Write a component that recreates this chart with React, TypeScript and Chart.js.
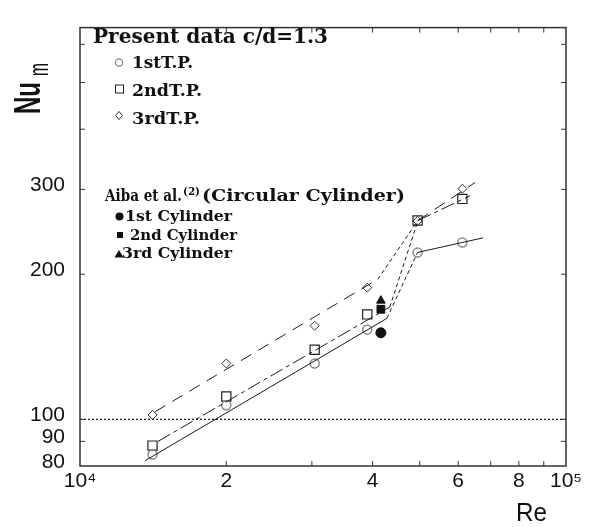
import React, { useEffect, useRef } from "react";
import { Chart, registerables } from "chart.js";

Chart.register(...registerables);

// ---- data ----
const reTP = [1.41e4, 2.0e4, 3.04e4, 3.9e4, 4.95e4, 6.12e4];
const nuTP1 = [84.5, 106.9, 130.6, 153.5, 222, 232.8];
const nuTP2 = [88.2, 111.5, 139.4, 165.1, 258.6, 286.7];
const nuTP3 = [102.1, 130.6, 156.4, 187.6, 258, 301];

const reAiba = [4.16e4];
const nuAiba1 = [151.2];
const nuAiba2 = [169.2];
const nuAiba3 = [176.3];

const fit1Re = [1.36e4, 4.28e4, 4.95e4, 6.75e4];
const fit1Nu = [82, 162, 222, 238];
const fit2Re = [1.447e4, 4.34e4, 4.96e4, 6.35e4];
const fit2Nu = [90, 171, 258.6, 291];
const fit3Re = [1.427e4, 4.1e4, 4.96e4, 6.5e4];
const fit3Nu = [103.7, 195.3, 258.6, 310];

const refRe = [1e4, 1e5];
const refNu = [100, 100];

const xTickValues = [1e4, 2e4, 3e4, 4e4, 5e4, 6e4, 7e4, 8e4, 9e4, 1e5];
const xTickLabels = ["10⁴", "2", "", "4", "", "6", "", "8", "", "10⁵"];
const yTickValues = [80, 90, 100, 200, 300, 400, 500, 600];
const yTickLabels = ["80", "90", "100", "200", "300", "", "", ""];

const legendTitle = "Present data c/d=1.3";
const legendTP = ["1stT.P.", "2ndT.P.", "3rdT.P."];
const aibaTitle = ["Aiba et al.", "(2)", "(Circular Cylinder)"];
const aibaLabels = ["1st Cylinder", "2nd Cylinder", "3rd Cylinder"];

const pts = (xs: number[], ys: number[]) => xs.map((v, i) => ({ x: v, y: ys[i] }));

function fitText(ctx: CanvasRenderingContext2D, text: string, x: number, base: number, width: number, font: string) {
  ctx.font = font;
  const w = ctx.measureText(text).width;
  ctx.save();
  ctx.translate(x, base);
  ctx.scale(width / w, 1);
  ctx.textAlign = "left";
  ctx.textBaseline = "alphabetic";
  ctx.fillText(text, 0, 0);
  ctx.restore();
}

const annot = {
  id: "annot",
  afterDatasetsDraw(chart: any) {
    const { ctx, chartArea: a, scales } = chart;
    const xs = scales.x, ys = scales.y;
    ctx.save();
    // frame
    ctx.strokeStyle = "#333";
    ctx.lineWidth = 1.5;
    ctx.strokeRect(a.left, a.top, a.right - a.left, a.bottom - a.top);
    // inward ticks
    ctx.lineWidth = 1;
    ctx.beginPath();
    xTickValues.slice(1, -1).forEach((v) => {
      const p = xs.getPixelForValue(v);
      ctx.moveTo(p, a.bottom); ctx.lineTo(p, a.bottom - 5);
      ctx.moveTo(p, a.top); ctx.lineTo(p, a.top + 5);
    });
    yTickValues.slice(1).forEach((v) => {
      const p = ys.getPixelForValue(v);
      ctx.moveTo(a.left, p); ctx.lineTo(a.left + 5, p);
      ctx.moveTo(a.right, p); ctx.lineTo(a.right - 5, p);
    });
    ctx.stroke();

    ctx.fillStyle = "#111";
    // axis titles
    ctx.save();
    ctx.translate(40, 114);
    ctx.rotate(-Math.PI / 2);
    fitText(ctx, "Nu", 0, 0, 32, "bold 37px 'Liberation Sans'");
    ctx.restore();
    ctx.save();
    ctx.translate(48, 76);
    ctx.rotate(-Math.PI / 2);
    fitText(ctx, "m", 0, 0, 13, "27px 'Liberation Sans'");
    ctx.restore();
    fitText(ctx, "Re", 516, 521, 31, "26px 'Liberation Sans'");

    // legend: present data
    const serif = "'DejaVu Serif'";
    fitText(ctx, legendTitle, 93, 43, 235, `bold 21px ${serif}`);
    fitText(ctx, legendTP[0], 132, 68, 61, `bold 16px ${serif}`);
    fitText(ctx, legendTP[1], 132, 96, 70, `bold 16px ${serif}`);
    fitText(ctx, legendTP[2], 132, 124, 68, `bold 16px ${serif}`);
    // markers
    ctx.lineWidth = 1.3;
    ctx.strokeStyle = "#888";
    ctx.beginPath(); ctx.arc(119, 62.5, 3.6, 0, Math.PI * 2); ctx.stroke();
    ctx.strokeStyle = "#222";
    ctx.lineWidth = 1;
    ctx.strokeRect(115.5, 85, 8, 8);
    ctx.beginPath();
    ctx.moveTo(119, 111.5); ctx.lineTo(122.5, 115.5); ctx.lineTo(119, 119.5); ctx.lineTo(115.5, 115.5); ctx.closePath();
    ctx.stroke();

    // legend: Aiba et al.
    fitText(ctx, aibaTitle[0], 105, 201, 77, `bold 17px ${serif}`);
    fitText(ctx, aibaTitle[1], 183, 195, 17, `bold 11px ${serif}`);
    fitText(ctx, aibaTitle[2], 202, 201, 203, `bold 17px ${serif}`);
    fitText(ctx, aibaLabels[0], 125, 221, 107, `bold 15px ${serif}`);
    fitText(ctx, aibaLabels[1], 130, 240, 107, `bold 15px ${serif}`);
    fitText(ctx, aibaLabels[2], 122, 258, 110, `bold 15px ${serif}`);
    ctx.fillStyle = "#111";
    ctx.beginPath(); ctx.arc(119.5, 216.5, 4, 0, Math.PI * 2); ctx.fill();
    ctx.fillRect(117, 232, 6, 6);
    ctx.beginPath();
    ctx.moveTo(119, 250); ctx.lineTo(123.5, 257.5); ctx.lineTo(114.5, 257.5); ctx.closePath(); ctx.fill();
    ctx.restore();
  },
};

export default function App() {
  const ref = useRef<HTMLCanvasElement | null>(null);
  useEffect(() => {
    document.body.style.margin = "0";
    const lineDs = (xs: number[], ys: number[], dashes: number[][]) => ({
      data: pts(xs, ys),
      showLine: true,
      pointRadius: 0,
      borderColor: "#1a1a1a",
      borderWidth: 1,
      fill: false,
      segment: { borderDash: (c: any) => dashes[c.p0DataIndex] },
    });
    const chart = new Chart(ref.current as HTMLCanvasElement, {
      type: "scatter",
      data: {
        datasets: [
          { data: pts(refRe, refNu), showLine: true, pointRadius: 0, borderColor: "#222", borderWidth: 1.2, borderDash: [2, 2] },
          lineDs(fit1Re, fit1Nu, [[], [4, 3], []]),
          lineDs(fit2Re, fit2Nu, [[14, 4, 4, 4], [4, 3], [14, 4, 4, 4]]),
          lineDs(fit3Re, fit3Nu, [[12, 8], [4, 3], [12, 8]]),
          { data: pts(reTP, nuTP1), pointStyle: "circle", pointRadius: 4.5, borderColor: "#888", borderWidth: 1.5, backgroundColor: "transparent" },
          { data: pts(reTP, nuTP2), pointStyle: "rect", pointRadius: 6.5, borderColor: "#222", borderWidth: 1.2, backgroundColor: "transparent" },
          { data: pts(reTP, nuTP3), pointStyle: "rectRot", pointRadius: 4.5, borderColor: "#333", borderWidth: 1, backgroundColor: "transparent" },
          { data: pts(reAiba, nuAiba1), pointStyle: "circle", pointRadius: 5, borderColor: "#111", backgroundColor: "#111" },
          { data: pts(reAiba, nuAiba2), pointStyle: "rect", pointRadius: 5.5, borderColor: "#111", backgroundColor: "#111" },
          { data: pts(reAiba, nuAiba3), pointStyle: "triangle", pointRadius: 5, borderColor: "#111", backgroundColor: "#111" },
        ] as any,
      },
      options: {
        animation: false,
        responsive: false,
        layout: { padding: { top: 13, right: 25, left: 0, bottom: 0 } },
        plugins: { legend: { display: false }, tooltip: { enabled: false } },
        scales: {
          x: {
            type: "logarithmic",
            min: 1e4,
            max: 1e5,
            afterBuildTicks: (s: any) => { s.ticks = xTickValues.map((v) => ({ value: v })); },
            afterFit: (s: any) => { s.height = 61; },
            grid: { display: false, drawTicks: false },
            border: { display: false },
            ticks: {
              autoSkip: false,
              maxRotation: 0,
              padding: 3,
              color: "#111",
              font: { family: "'Liberation Sans'", size: 21 },
              callback: (_v: any, i: number) => xTickLabels[i],
            },
          },
          y: {
            type: "logarithmic",
            min: 80,
            max: 650,
            afterBuildTicks: (s: any) => { s.ticks = yTickValues.map((v) => ({ value: v })); },
            afterFit: (s: any) => { s.width = 80; },
            grid: { display: false, drawTicks: false },
            border: { display: false },
            ticks: {
              autoSkip: false,
              padding: 15,
              labelOffset: -4,
              color: "#111",
              font: { family: "'Liberation Sans'", size: 21 },
              callback: (_v: any, i: number) => yTickLabels[i],
            },
          },
        },
      } as any,
      plugins: [annot],
    });
    return () => chart.destroy();
  }, []);
  return (
    <div style={{ width: 591, height: 527, background: "#fff" }}>
      <canvas ref={ref} width={591} height={527} style={{ display: "block" }} />
    </div>
  );
}
